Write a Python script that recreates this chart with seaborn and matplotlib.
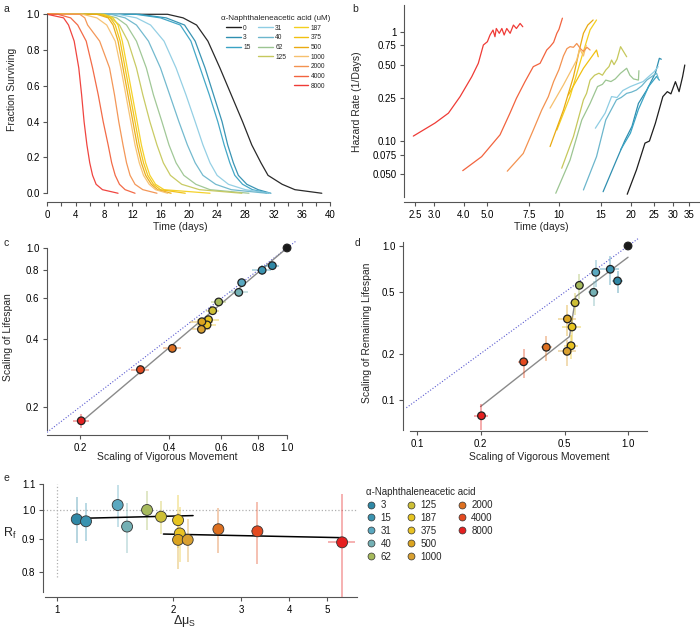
import matplotlib
matplotlib.use('Agg')
import pandas as pd
import matplotlib.pyplot as plt
from matplotlib.lines import Line2D
from matplotlib.ticker import NullLocator
import seaborn as sns

# ---------------- data ----------------
conc = ['0', '3', '15', '31', '40', '62', '125', '187', '375', '500',
        '1000', '2000', '4000', '8000']
line_colors = ['#1e1e1e', '#2f8fb0', '#3aa3c4', '#8fcde3', '#6cb6cc', '#9cc592',
               '#c6c85c', '#f4cf1f', '#f1c010', '#e9aa12', '#f6c06e', '#f39250',
               '#f2633e', '#ef3b36']
point_colors = ['#1a1a1a', '#2f88a6', '#3a93b0', '#5aa8c0', '#74b0b4', '#a6ba5c',
                '#cdbf35', '#e6c420', '#e9c223', '#dba420', '#d9a030', '#de7020',
                '#e44a20', '#e52020']

# panel a: time (days) at which each curve reaches these survival levels
surv_levels = [1.0, 1.0, 0.98, 0.94, 0.85, 0.7, 0.55, 0.4, 0.27, 0.17, 0.1, 0.05, 0.02, 0.0]
surv_times = [
    [0, 17.0, 19.2, 21.1, 22.7, 24.4, 26.0, 27.6, 28.9, 30.2, 31.2, 33.2, 35.0, 38.8],
    [0, 13.0, 16.8, 19.4, 20.9, 22.3, 23.5, 24.7, 25.5, 26.3, 27.0, 28.2, 29.8, 31.6],
    [0, 12.5, 16.0, 18.8, 20.3, 21.6, 22.9, 24.1, 25.0, 25.8, 26.5, 27.6, 29.0, 31.3],
    [0, 10.0, 12.6, 14.6, 16.5, 18.2, 19.6, 20.9, 22.0, 23.0, 24.0, 25.6, 28.0, 31.5],
    [0, 9.0, 11.0, 12.6, 14.3, 16.0, 17.3, 18.6, 19.8, 20.9, 22.0, 23.8, 26.0, 31.0],
    [0, 8.0, 9.8, 11.2, 12.6, 14.0, 15.0, 16.2, 17.2, 18.2, 19.3, 21.0, 23.0, 28.5],
    [0, 7.5, 9.0, 10.2, 11.4, 12.6, 13.5, 14.5, 15.5, 16.4, 17.4, 19.0, 21.5, 27.5],
    [0, 8.0, 9.3, 10.0, 10.6, 11.3, 12.0, 12.7, 13.3, 13.9, 14.5, 15.3, 16.5, 23.0],
    [0, 7.5, 8.9, 9.6, 10.3, 11.0, 11.7, 12.4, 13.0, 13.6, 14.2, 15.0, 16.0, 19.5],
    [0, 7.0, 8.6, 9.3, 10.0, 10.7, 11.4, 12.1, 12.7, 13.3, 13.9, 14.7, 15.6, 17.5],
    [0, 5.0, 7.0, 8.4, 9.6, 10.4, 11.1, 11.8, 12.4, 13.0, 13.6, 14.4, 15.3, 17.0],
    [0, 4.6, 5.3, 5.7, 7.4, 8.8, 9.5, 10.1, 10.7, 11.2, 11.7, 12.4, 13.5, 15.5],
    [0, 1.5, 3.3, 4.3, 5.5, 6.4, 7.2, 7.9, 8.6, 9.1, 9.6, 10.2, 11.0, 12.4],
    [0, 0.0, 2.3, 3.0, 3.8, 4.45, 4.85, 5.2, 5.6, 6.0, 6.4, 6.9, 7.8, 10.0],
]

# panel b: hazard rate curves
haz_t = [
    [19.3, 21.1, 22.9, 23.9, 25.3, 27.2, 28.4, 29.4, 30.7, 31.8, 32.9, 33.6],
    [15.3, 17.4, 18.9, 20.2, 21.5, 23.3, 25.3, 26.3, 26.8],
    [18.1, 19.9, 21.5, 23.7, 25.6, 26.3],
    [14.2, 15.6, 16.6, 17.5, 18.5, 19.9, 21.5, 22.5, 23.7, 25.0, 26.0],
    [12.66, 14.36, 15.7, 17.4, 18.2, 19.2, 20.1, 21.1, 22.2, 23.3, 24.5, 25.6, 26.0],
    [9.7, 11.13, 12.46, 13.5, 14.5, 15.2, 15.7, 16.5, 17.2, 18.1, 19.2, 19.8, 20.5, 21.5, 21.6],
    [10.27, 11.5, 12.66, 13.05, 13.5, 14.1, 14.7, 15.2, 15.7, 16.2, 16.6, 17.0, 17.5, 18.1, 19.2],
    [9.8, 11.13, 12.46, 13.5, 14.36],
    [10.95, 12.66, 14.36, 14.6],
    [9.18, 10.44, 11.5, 12.27, 12.66, 13.2, 13.9],
    [9.18, 10.44, 11.87, 12.2, 12.66, 13.0],
    [6.08, 7.09, 7.81, 8.47, 9.03, 9.5, 10.0, 10.44, 10.8, 11.13, 11.5, 11.87, 12.3, 12.66, 13.1, 13.5],
    [3.96, 4.75, 5.67, 6.24, 6.64, 7.21, 7.81, 8.34, 8.89, 9.18, 9.5, 9.8, 10.0, 10.34],
    [2.46, 3.03, 3.45, 3.86, 4.32, 4.60, 4.83, 5.02, 5.15, 5.30, 5.40, 5.47, 5.63, 5.77,
     5.90, 6.05, 6.25, 6.45, 6.64, 6.88, 7.06],
]
haz_h = [
    [0.0326, 0.0545, 0.0957, 0.1, 0.145, 0.255, 0.283, 0.27, 0.349, 0.283, 0.388, 0.496],
    [0.0344, 0.067, 0.102, 0.136, 0.221, 0.293, 0.417, 0.571, 0.56],
    [0.083, 0.118, 0.195, 0.315, 0.39, 0.36],
    [0.131, 0.18, 0.255, 0.25, 0.29, 0.315, 0.337, 0.35, 0.388, 0.43, 0.479],
    [0.0357, 0.072, 0.156, 0.238, 0.25, 0.273, 0.28, 0.293, 0.32, 0.361, 0.39, 0.417, 0.38],
    [0.0333, 0.067, 0.156, 0.221, 0.315, 0.33, 0.361, 0.35, 0.37, 0.417, 0.463, 0.40, 0.37, 0.361, 0.44],
    [0.0564, 0.11, 0.238, 0.273, 0.361, 0.40, 0.417, 0.40, 0.446, 0.48, 0.551, 0.50, 0.56, 0.73, 0.59],
    [0.126, 0.255, 0.59, 1.04, 1.28],
    [0.264, 0.463, 0.68, 0.59],
    [0.089, 0.192, 0.388, 0.73, 0.967, 1.15, 1.28],
    [0.2, 0.326, 0.551, 0.70, 0.60, 0.75],
    [0.053, 0.077, 0.126, 0.192, 0.255, 0.35, 0.45, 0.60, 0.70, 0.73, 0.72, 0.78, 0.70, 0.66, 0.72, 0.68],
    [0.0536, 0.072, 0.114, 0.18, 0.246, 0.349, 0.479, 0.514, 0.68, 0.73, 0.80, 0.967, 1.05, 1.33],
    [0.111, 0.146, 0.180, 0.255, 0.388, 0.514, 0.756, 0.81, 0.933, 1.036, 0.90, 1.07, 0.967,
     1.07, 0.933, 1.07, 0.967, 1.15, 1.07, 1.19, 1.11],
]

# panels c and d: scaling factors
vig_scale = [1.0, 0.892, 0.824, 0.703, 0.687, 0.588, 0.561, 0.543, 0.537, 0.516, 0.514, 0.41, 0.32, 0.202]
life_scale = [1.0, 0.836, 0.798, 0.704, 0.638, 0.579, 0.530, 0.484, 0.459, 0.474, 0.439, 0.362, 0.292, 0.174]
vig_err_c = [0, 0.05, 0.06, 0.02, 0.05, 0.035, 0.03, 0.045, 0.04, 0.045, 0.035, 0.03, 0.022, 0.013]
life_err_c = [0, 0.015, 0.04, 0.015, 0.02, 0.015, 0.015, 0.025, 0.02, 0.02, 0.02, 0.015, 0.015, 0.012]
rem_scale = [1.0, 0.593, 0.706, 0.675, 0.50, 0.555, 0.428, 0.298, 0.225, 0.336, 0.207, 0.22, 0.177, 0.079]
vig_err_d = [0, 0.05, 0.085, 0.03, 0.04, 0.03, 0.03, 0.055, 0.04, 0.05, 0.05, 0.025, 0.02, 0.016]
rem_err_d = [0, 0.1, 0.15, 0.13, 0.09, 0.1, 0.07, 0.055, 0.04, 0.075, 0.04, 0.04, 0.038, 0.015]
fit_c_x = [0.202, 1.0]
fit_c_y = [0.172, 1.0]
fit_d_x = [0.2, 0.528, 0.565, 1.0]
fit_d_y = [0.0906, 0.258, 0.469, 0.845]

# panel e (no control)
dmu = [1.123, 1.187, 1.434, 1.517, 1.709, 1.858, 2.057, 2.078, 2.057, 2.179, 2.617, 3.304, 5.48]
rf = [0.967, 0.960, 1.018, 0.942, 1.0, 0.976, 0.964, 0.919, 0.898, 0.898, 0.933, 0.926, 0.890]
dmu_err = [0.01, 0.01, 0.01, 0.01, 0.01, 0.01, 0.01, 0.01, 0.01, 0.01, 0.03, 0.12, 0.45]
rf_err = [0.08, 0.066, 0.077, 0.085, 0.069, 0.058, 0.092, 0.09, 0.09, 0.07, 0.075, 0.104, 0.17]
fit_e1_x = [1.12, 2.25]
fit_e1_y = [0.970, 0.980]
fit_e2_x = [1.885, 5.52]
fit_e2_y = [0.917, 0.905]

# ---------------- style ----------------
sns.set_theme(style='ticks')
plt.rcParams['font.family'] = ['Liberation Sans', 'DejaVu Sans']
plt.rcParams['mathtext.default'] = 'regular'
plt.rcParams.update({
    'axes.linewidth': 0.8, 'axes.edgecolor': '#555555',
    'xtick.color': '#555555', 'ytick.color': '#555555',
    'xtick.labelcolor': 'black', 'ytick.labelcolor': 'black',
    'xtick.labelsize': 7, 'ytick.labelsize': 7, 'axes.labelsize': 7.5,
    'xtick.major.size': 3, 'ytick.major.size': 3,
    'xtick.major.width': 0.8, 'ytick.major.width': 0.8,
    'xtick.major.pad': 2.5, 'ytick.major.pad': 2.5,
})

pal_line = dict(zip(conc, line_colors))
pal_point = dict(zip(conc, point_colors))

W, H = 700, 634
fig = plt.figure(figsize=(W / 100, H / 100), dpi=100)


def add_ax(l, t, r, b):
    return fig.add_axes([l / W, 1 - b / H, (r - l) / W, (b - t) / H])


def label_pos(ax, xl, yl):
    ax.xaxis.set_label_coords(xl[0] / W, 1 - xl[1] / H, transform=fig.transFigure)
    ax.yaxis.set_label_coords(yl[0] / W, 1 - yl[1] / H, transform=fig.transFigure)


def log_ticks(ax, xt, xl, yt, yl):
    ax.set_xscale('log')
    ax.set_yscale('log')
    ax.set_xticks(xt)
    ax.set_xticklabels(xl)
    ax.set_yticks(yt)
    ax.set_yticklabels(yl)
    ax.xaxis.set_minor_locator(NullLocator())
    ax.yaxis.set_minor_locator(NullLocator())


# ---------------- a: survival ----------------
ax_a = add_ax(47.3, 13.4, 330.3, 202.2)
rows = []
for c, times in zip(conc, surv_times):
    for t, s in zip(times, surv_levels):
        rows.append((c, t, s))
surv = pd.DataFrame(rows, columns=['conc', 'time', 'surv'])
sns.lineplot(data=surv, x='time', y='surv', hue='conc', palette=pal_line,
             estimator=None, sort=False, legend=False, lw=0.9, alpha=0.95, ax=ax_a)
ax_a.set_xlim(0, 40)
ax_a.set_ylim(-0.05, 1.005)
ax_a.set_xticks(range(0, 41, 2))
ax_a.set_xticklabels([str(v) if v % 4 == 0 else '' for v in range(0, 41, 2)])
ax_a.set_yticks([0, 0.2, 0.4, 0.6, 0.8, 1.0])
ax_a.set_yticklabels(['0.0', '0.2', '0.4', '0.6', '0.8', '1.0'])
sns.despine(ax=ax_a)
ax_a.spines['left'].set_bounds(0, 1)
ax_a.set_xlabel('Time (days)')
ax_a.set_ylabel('Fraction Surviving')
label_pos(ax_a, (180, 222), (17, 89))


def blank():
    return Line2D([], [], ls='none', marker='none', label=' ')


cols_a = [['0', '3', '15'], ['31', '40', '62', '125'],
          ['187', '375', '500', '1000', '2000', '4000', '8000']]
handles_a = []
for col in cols_a:
    for c in col:
        handles_a.append(Line2D([], [], color=pal_line[c], lw=1.0, label=c))
    handles_a += [blank() for _ in range(7 - len(col))]
leg_a = ax_a.legend(handles=handles_a, ncol=3, title='α-Naphthaleneacetic acid (uM)',
                    fontsize=4.8, title_fontsize=5.8, frameon=False, loc='upper left',
                    bbox_to_anchor=(221 / W, 1 - 15 / H), bbox_transform=fig.transFigure,
                    handlelength=2.2, handletextpad=0.4, columnspacing=1.1,
                    labelspacing=0.4, borderpad=0, borderaxespad=0)

# ---------------- b: hazard ----------------
ax_b = add_ax(404, 5, 700, 202)
rows = []
for c, ts, hs in zip(conc, haz_t, haz_h):
    for t, h in zip(ts, hs):
        rows.append((c, t, h))
haz = pd.DataFrame(rows, columns=['conc', 'time', 'hazard'])
sns.lineplot(data=haz, x='time', y='hazard', hue='conc', palette=pal_line,
             estimator=None, sort=False, legend=False, lw=0.9, ax=ax_b)
log_ticks(ax_b, [2.5, 3, 4, 5, 7.5, 10, 15, 20, 25, 30, 35],
          ['2.5', '3.0', '4.0', '5.0', '7.5', '10', '15', '20', '25', '30', '35'],
          [0.05, 0.075, 0.1, 0.25, 0.5, 0.75, 1],
          ['0.050', '0.075', '0.10', '0.25', '0.50', '0.75', '1'])
ax_b.set_xlim(2.249, 38.9)
ax_b.set_ylim(0.0277, 1.755)
sns.despine(ax=ax_b)
ax_b.spines['left'].set_bounds(0.0308, 1.755)
ax_b.set_xlabel('Time (days)')
ax_b.set_ylabel('Hazard Rate (1/Days)')
label_pos(ax_b, (541.7, 222), (362, 101.7))


def scaling_panel(ax, yvals, xerr, yerr, fit_x, fit_y, diag):
    ax.plot(diag, diag, ls=':', color='#5a5ad0', lw=0.8, zorder=1)
    ax.plot(fit_x, fit_y, color='#8a8a8a', lw=1.0, zorder=2)
    for x, y, ex, ey, c in zip(vig_scale, yvals, xerr, yerr, conc):
        if ex > 0 or ey > 0:
            ax.errorbar(x, y, xerr=ex, yerr=ey, fmt='none', ecolor=pal_point[c],
                        alpha=0.4, elinewidth=1.3, capsize=0, zorder=2)
    pts = pd.DataFrame({'x': vig_scale, 'y': yvals, 'conc': conc})
    sns.scatterplot(data=pts, x='x', y='y', hue='conc', palette=pal_point,
                    edgecolor='#222222', linewidth=0.9, s=30, legend=False,
                    ax=ax, zorder=4, clip_on=False)


# ---------------- c ----------------
ax_c = add_ax(47, 238, 300, 435)
scaling_panel(ax_c, life_scale, vig_err_c, life_err_c, fit_c_x, fit_c_y, [0.1548, 1.07])
log_ticks(ax_c, [0.2, 0.4, 0.6, 0.8, 1.0], ['0.2', '0.4', '0.6', '0.8', '1.0'],
          [0.2, 0.4, 0.6, 0.8, 1.0], ['0.2', '0.4', '0.6', '0.8', '1.0'])
ax_c.set_xlim(0.1548, 1.106)
ax_c.set_ylim(0.1507, 1.106)
sns.despine(ax=ax_c)
ax_c.spines['left'].set_bounds(0.158, 1.0)
ax_c.spines['bottom'].set_bounds(0.1548, 1.0)
ax_c.set_xlabel('Scaling of Vigorous Movement')
ax_c.set_ylabel('Scaling of Lifespan')
label_pos(ax_c, (167, 452), (13.5, 337.5))

# ---------------- d ----------------
ax_d = add_ax(403, 236, 647, 431)
scaling_panel(ax_d, rem_scale, vig_err_d, rem_err_d, fit_d_x, fit_d_y, [0.089, 1.12])
log_ticks(ax_d, [0.1, 0.2, 0.5, 1.0], ['0.1', '0.2', '0.5', '1.0'],
          [0.1, 0.2, 0.5, 1.0], ['0.1', '0.2', '0.5', '1.0'])
ax_d.set_xlim(0.0858, 1.23)
ax_d.set_ylim(0.0629, 1.161)
sns.despine(ax=ax_d)
ax_d.spines['left'].set_bounds(0.064, 1.066)
ax_d.spines['bottom'].set_bounds(0.0927, 1.23)
ax_d.set_xlabel('Scaling of Vigorous Movement')
ax_d.set_ylabel('Scaling of Remaining Lifespan')
label_pos(ax_d, (539.5, 452), (372, 332.5))

# ---------------- e ----------------
ax_e = add_ax(43, 478, 357, 597)
conc_e = conc[1:]
ax_e.axhline(1.0, ls=':', color='#b0b0b0', lw=0.9, zorder=1)
ax_e.plot([1, 1], [0.785, 1.1], ls=':', color='#b0b0b0', lw=0.9, zorder=1)
for x, y, ex, ey, c in zip(dmu, rf, dmu_err, rf_err, conc_e):
    ax_e.errorbar(x, y, xerr=ex, yerr=ey, fmt='none', ecolor=pal_point[c],
                  alpha=0.35, elinewidth=1.4, capsize=0, zorder=2)
ax_e.plot(fit_e1_x, fit_e1_y, color='black', lw=1.1, zorder=3)
ax_e.plot(fit_e2_x, fit_e2_y, color='black', lw=1.1, zorder=3)
pts_e = pd.DataFrame({'dmu': dmu, 'rf': rf, 'conc': conc_e})
sns.scatterplot(data=pts_e, x='dmu', y='rf', hue='conc', palette=pal_point,
                edgecolor='#333333', linewidth=0.6, s=62, legend=False,
                ax=ax_e, zorder=4)
log_ticks(ax_e, [1, 2, 3, 4, 5], ['1', '2', '3', '4', '5'],
          [0.8, 0.9, 1.0, 1.1], ['0.8', '0.9', '1.0', '1.1'])
ax_e.set_xlim(0.918, 5.99)
ax_e.set_ylim(0.731, 1.122)
sns.despine(ax=ax_e)
ax_e.spines['left'].set_bounds(0.745, 1.1)
ax_e.spines['bottom'].set_bounds(0.93, 5.99)
ax_e.set_xlabel('Δμ$_\\mathregular{S}$', fontsize=9)
ax_e.set_ylabel('R$_\\mathregular{f}$', fontsize=9, rotation=0)
label_pos(ax_e, (185, 613), (10, 541))

handles_e = []
for c in conc_e:
    handles_e.append(Line2D([], [], ls='none', marker='o', markersize=5,
                            markerfacecolor=pal_point[c], markeredgecolor='#333333',
                            markeredgewidth=0.5, label=c))
handles_e += [blank(), blank()]
ax_e.legend(handles=handles_e, ncol=3, title='α-Naphthaleneacetic acid',
            fontsize=7, title_fontsize=7, frameon=False, loc='upper left',
            bbox_to_anchor=(366 / W, 1 - 487 / H), bbox_transform=fig.transFigure,
            handlelength=1.0, handletextpad=0.5, columnspacing=1.5,
            labelspacing=0.3, borderpad=0, borderaxespad=0, alignment='left')

# ---------------- panel letters ----------------
for letter, (x, y) in zip('abcde', [(3, 9), (352, 9), (3, 243), (355, 243), (3, 478)]):
    fig.text(x / W, 1 - y / H, letter, fontsize=7.5, ha='left', va='center')

fig.savefig('out.png', dpi=100)
